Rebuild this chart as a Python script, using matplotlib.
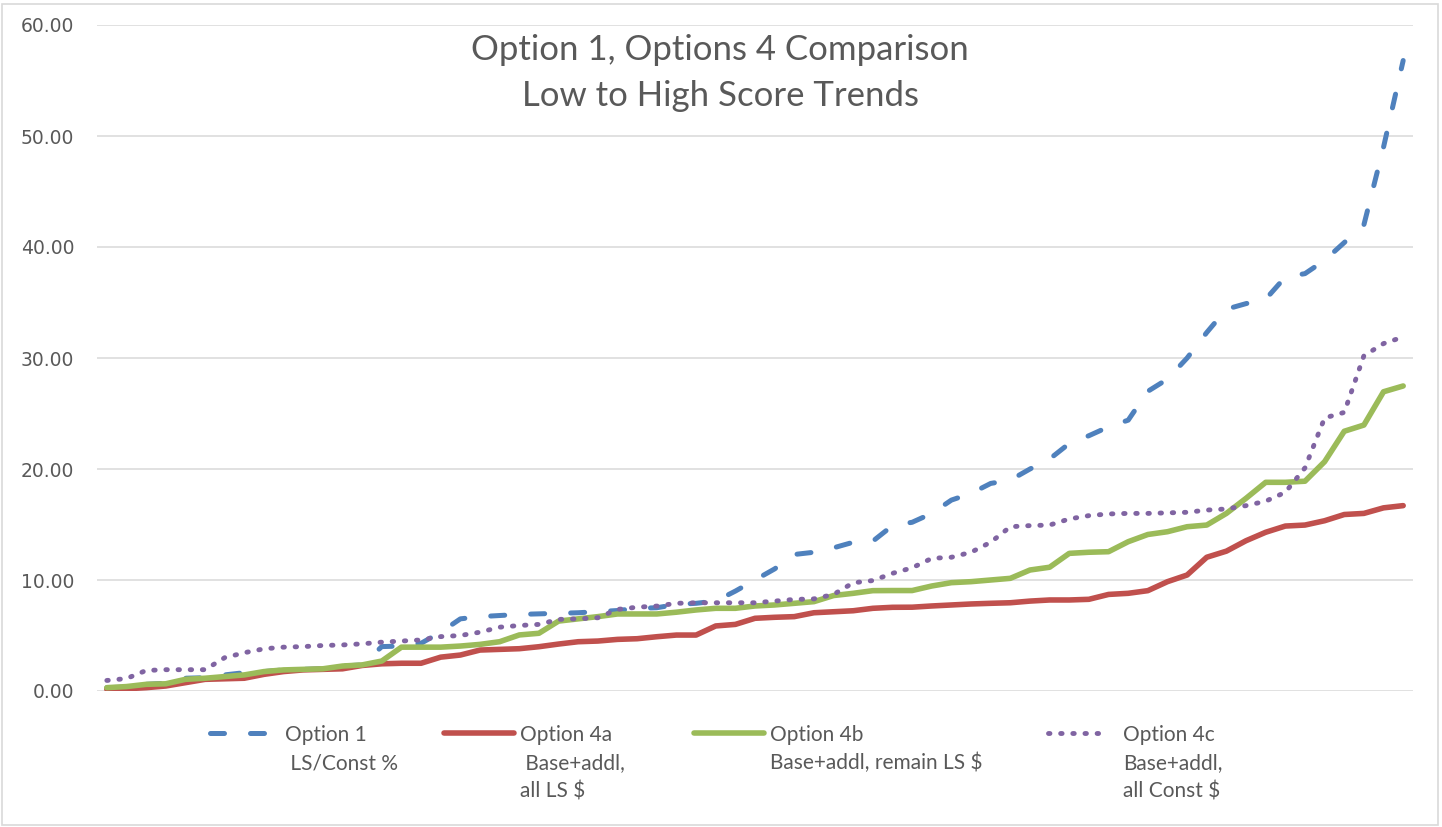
import numpy as np
import matplotlib
matplotlib.use("Agg")
import matplotlib.pyplot as plt
from matplotlib.lines import Line2D
from matplotlib.patches import Rectangle

## Données

option1 = [0.3, 0.35, 0.6, 0.7, 1.15, 1.2, 1.45, 1.65, 1.75, 1.9,
           1.95, 2.0, 2.25, 2.35, 4.0, 4.05, 4.3, 5.3, 6.5, 6.7,
           6.8, 6.9, 6.95, 7.0, 7.05, 7.15, 7.25, 7.45, 7.5, 7.8,
           7.9, 8.1, 9.0, 10.0, 11.0, 12.3, 12.5, 12.9, 13.4, 13.5,
           14.9, 15.2, 16.0, 17.2, 17.8, 18.7, 19.0, 20.0, 20.9, 22.3,
           23.0, 23.8, 24.4, 27.0, 28.1, 30.0, 32.3, 34.4, 34.9, 35.3,
           37.3, 37.6, 38.8, 40.4, 42.0, 49.0, 56.8]

option4a = [0.15, 0.2, 0.3, 0.45, 0.75, 1.05, 1.1, 1.15, 1.5, 1.75,
            1.9, 1.95, 2.0, 2.3, 2.45, 2.5, 2.5, 3.05, 3.24, 3.69,
            3.75, 3.81, 3.99, 4.23, 4.44, 4.5, 4.65, 4.71, 4.89, 5.04,
            5.04, 5.86, 6.0, 6.55, 6.64, 6.7, 7.05, 7.14, 7.23, 7.45,
            7.54, 7.55, 7.66, 7.75, 7.84, 7.9, 7.95, 8.1, 8.2, 8.2,
            8.26, 8.7, 8.8, 9.04, 9.85, 10.45, 12.05, 12.6, 13.54, 14.3,
            14.86, 14.95, 15.34, 15.9, 16.0, 16.5, 16.7]

option4b = [0.3, 0.4, 0.6, 0.65, 1.05, 1.15, 1.3, 1.45, 1.75, 1.9,
            1.95, 2.0, 2.25, 2.35, 2.7, 3.95, 3.95, 3.95, 4.05, 4.2,
            4.44, 5.05, 5.2, 6.3, 6.5, 6.7, 6.94, 6.94, 6.94, 7.1,
            7.3, 7.45, 7.45, 7.66, 7.75, 7.9, 8.05, 8.6, 8.8, 9.04,
            9.05, 9.05, 9.46, 9.76, 9.85, 10.0, 10.15, 10.9, 11.15, 12.4,
            12.5, 12.55, 13.45, 14.1, 14.35, 14.8, 14.95, 16.0, 17.36, 18.8,
            18.8, 18.9, 20.66, 23.4, 23.96, 26.96, 27.48]

option4c = [0.95, 1.12, 1.85, 1.92, 1.92, 1.92, 3.0, 3.45, 3.8, 3.95,
            4.0, 4.1, 4.15, 4.25, 4.4, 4.5, 4.6, 4.9, 5.0, 5.3,
            5.75, 5.9, 6.0, 6.45, 6.5, 6.6, 7.35, 7.55, 7.65, 7.9,
            7.95, 7.95, 7.95, 7.95, 8.1, 8.25, 8.3, 8.7, 9.75, 9.95,
            10.6, 11.1, 11.95, 12.05, 12.5, 13.4, 14.8, 14.9, 14.95, 15.5,
            15.8, 15.95, 16.0, 16.0, 16.05, 16.1, 16.3, 16.4, 16.7, 17.1,
            17.9, 20.1, 24.6, 25.1, 30.2, 31.3, 31.9]

yticks = [0, 10, 20, 30, 40, 50, 60]

labels = [["Option 1", " LS/Const %"],
          ["Option 4a", " Base+addl,", "all LS $"],
          ["Option 4b", "Base+addl, remain LS $"],
          ["Option 4c", "Base+addl,", "all Const $"]]

## Styles

W, H = 1442, 827
gris = "#595959"
styles = [
    dict(color="#4F81BD", lw=3.6, linestyle=(0, (2.8, 5.2)), dash_capstyle="round"),
    dict(color="#C0504D", lw=4.0, solid_capstyle="round"),
    dict(color="#9BBB59", lw=4.0, solid_capstyle="round"),
    dict(color="#8064A2", lw=3.5, linestyle=(0, (0.3, 2.2)), dash_capstyle="round"),
]

def fx(x):
    return x / W

def fy(y):
    return 1 - y / H

fig = plt.figure(figsize=(W / 100, H / 100), dpi=100)
ax = fig.add_axes([fx(97), fy(691), (1413 - 97) / W, (691 - 25) / H])

x = np.arange(len(option1))
for serie, st in zip([option1, option4a, option4b, option4c], styles):
    ax.plot(x, serie, solid_joinstyle="round", **st)

ax.set_xlim(-0.5, len(option1) - 0.5)
ax.set_ylim(0, 60)
ax.set_yticks(yticks)
ax.set_yticklabels([f"{v:.2f}" for v in yticks])
ax.set_xticks([])
ax.tick_params(axis="y", length=0, pad=16.5, labelsize=13.5, labelcolor=gris)
for s in ax.spines.values():
    s.set_visible(False)
ax.grid(axis="y", color="#D9D9D9", lw=1.1)
ax.set_axisbelow(True)

# titre
fig.text(fx(720), fy(60), "Option 1, Options 4 Comparison", ha="center",
         va="baseline", fontsize=25, family="Lato", color=gris)
fig.text(fx(720), fy(106), "Low to High Score Trends", ha="center",
         va="baseline", fontsize=25, family="Lato", color=gris)

# légende
handles_x = [(210, 278), (444, 514), (694, 764), (1048, 1108)]
text_x = [285, 520, 770, 1123]
bases = [741, 769, 797]
for (x0, x1), tx, lab, st in zip(handles_x, text_x, labels, styles):
    fig.add_artist(Line2D([fx(x0), fx(x1)], [fy(733), fy(733)], **st))
    for k, ligne in enumerate(lab):
        fig.text(fx(tx), fy(bases[k]), ligne, ha="left", va="baseline",
                 fontsize=15, family="Lato", color=gris)

# bordure de la zone du graphique
fig.add_artist(Rectangle((fx(2), fy(825)), fx(1436), 821 / H, transform=fig.transFigure,
                         fill=False, edgecolor="#D9D9D9", lw=1.2))

fig.savefig("out.png", dpi=100, facecolor="white")
